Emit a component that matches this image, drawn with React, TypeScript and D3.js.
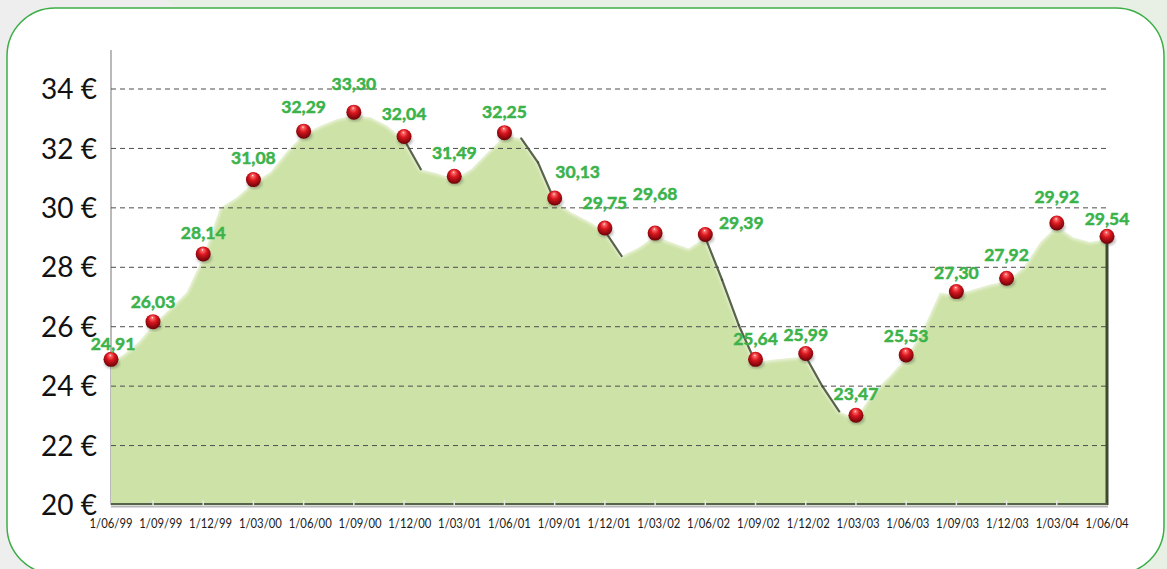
import React, { useEffect, useRef } from 'react'
import * as d3 from 'd3'

// quarterly dates on the x axis
const quarterLabels = [
  '1/06/99', '1/09/99', '1/12/99', '1/03/00', '1/06/00', '1/09/00', '1/12/00',
  '1/03/01', '1/06/01', '1/09/01', '1/12/01', '1/03/02', '1/06/02', '1/09/02',
  '1/12/02', '1/03/03', '1/06/03', '1/09/03', '1/12/03', '1/03/04', '1/06/04',
]

// quoted price at each quarter (green labels)
const quarterValues = [
  24.91, 26.03, 28.14, 31.08, 32.29, 33.3, 32.04, 31.49, 32.25, 30.13, 29.75,
  29.68, 29.39, 25.64, 25.99, 23.47, 25.53, 27.3, 27.92, 29.92, 29.54,
]

// monthly price, drawn as the area
const monthlyValues = [
  24.8, 25.1, 25.5, 26.07, 26.6, 27.15, 28.35, 30.0, 30.35, 30.85,
  31.2, 31.9, 32.48, 32.76, 32.99, 33.12, 33.05, 32.76, 32.3, 31.3,
  31.16, 30.96, 31.3, 31.87, 32.43, 32.34, 31.53, 30.23, 29.84, 29.56,
  29.22, 28.38, 28.66, 29.05, 28.83, 28.63, 29.0, 27.58, 26.05, 24.8,
  24.89, 24.95, 25.0, 23.99, 23.15, 22.92, 23.77, 24.33, 24.95, 25.9,
  27.14, 27.08, 27.25, 27.42, 27.53, 27.99, 28.83, 29.39, 29.0, 28.85,
  28.94,
]

const yTicks = [20, 22, 24, 26, 28, 30, 32, 34]

// label placement relative to each ball [dx, dy]
const labelOffsets = [
  [2, -9], [0, -14], [0, -15], [0, -16], [0, -18], [0, -22], [0, -17],
  [0, -17], [0, -15], [23, -20], [0, -19], [0, -33], [36, -6], [0, -14],
  [0, -12], [0, -15], [0, -13], [0, -13], [0, -17], [0, -20], [0, -11],
]

export default function App() {
  const ref = useRef<SVGSVGElement>(null)

  useEffect(() => {
    const width = 1167
    const height = 569
    const svg = d3.select(ref.current)
    svg.selectAll('*').remove()

    const x = d3.scaleLinear().domain([0, 1, 20]).range([111, 153, 1107])
    const y = d3.scaleLinear().domain([20, 34]).range([505, 89])
    const xLab = d3.scalePoint<string>().domain(quarterLabels).range([111, 1107])
    const fmt = d3.formatLocale({ decimal: ',', thousands: '.', grouping: [3], currency: ['', ' €'] }).format('.2f')

    const defs = svg.append('defs')
    const grad = defs.append('radialGradient')
      .attr('id', 'ball')
      .attr('cx', '50%').attr('cy', '40%').attr('r', '60%')
      .attr('fx', '45%').attr('fy', '22%')
    grad.append('stop').attr('offset', '0%').attr('stop-color', '#ffffff')
    grad.append('stop').attr('offset', '12%').attr('stop-color', '#ff6a6a')
    grad.append('stop').attr('offset', '45%').attr('stop-color', '#d8161f')
    grad.append('stop').attr('offset', '100%').attr('stop-color', '#6a0206')
    defs.append('filter').attr('id', 'blur').append('feGaussianBlur').attr('stdDeviation', 1.4)
    defs.append('filter').attr('id', 'shadow').append('feGaussianBlur').attr('stdDeviation', 1.5)

    // page background and frame
    svg.append('rect').attr('width', width).attr('height', height).attr('fill', '#eeeeee')
    svg.append('polygon')
      .attr('points', '165,0 1167,0 1167,569 980,569')
      .attr('fill', '#e8f0e6')
    svg.append('rect')
      .attr('x', 7).attr('y', 8)
      .attr('width', 1157).attr('height', 566)
      .attr('rx', 48)
      .attr('fill', '#ffffff')
      .attr('stroke', '#3cae45')
      .attr('stroke-width', 1.5)

    // y axis line
    svg.append('line')
      .attr('x1', x(0)).attr('x2', x(0))
      .attr('y1', 50).attr('y2', y(20))
      .attr('stroke', '#8c8c8c').attr('stroke-width', 1.2)

    // area
    const area = d3.area<number>()
      .x((d, i) => x(i / 3))
      .y0(y(20))
      .y1(d => y(d))
    const line = d3.line<number>()
      .x((d, i) => x(i / 3))
      .y(d => y(d))

    svg.append('path')
      .datum(monthlyValues)
      .attr('d', area)
      .attr('fill', '#cde2a6')

    svg.append('path')
      .datum(monthlyValues)
      .attr('d', line)
      .attr('fill', 'none')
      .attr('stroke', '#ffffff')
      .attr('stroke-width', 4)
      .attr('opacity', 0.6)
      .attr('filter', 'url(#blur)')

    // dark edges on steep falls
    const drops = d3.range(monthlyValues.length - 1)
      .filter(i => monthlyValues[i] - monthlyValues[i + 1] > 0.6)
    svg.append('g').selectAll('line')
      .data(drops).enter()
      .append('line')
      .attr('x1', i => x(i / 3)).attr('y1', i => y(monthlyValues[i]))
      .attr('x2', i => x((i + 1) / 3)).attr('y2', i => y(monthlyValues[i + 1]))
      .attr('stroke', '#3e4a30')
      .attr('stroke-width', 2.2)
      .attr('stroke-linecap', 'round')
      .attr('opacity', 0.85)

    // right edge and floor of the area
    const last = monthlyValues.length - 1
    svg.append('line')
      .attr('x1', x(last / 3)).attr('x2', x(last / 3))
      .attr('y1', y(monthlyValues[last])).attr('y2', y(20))
      .attr('stroke', '#3e4a30').attr('stroke-width', 3)
    svg.append('line')
      .attr('x1', x(0)).attr('x2', x(20))
      .attr('y1', y(20) - 1).attr('y2', y(20) - 1)
      .attr('stroke', '#56644a').attr('stroke-width', 2)
    svg.append('line')
      .attr('x1', x(0)).attr('x2', x(20) + 1)
      .attr('y1', y(20) + 1.5).attr('y2', y(20) + 1.5)
      .attr('stroke', '#b8b8b8').attr('stroke-width', 2)

    // x ticks
    svg.append('g').selectAll('line')
      .data(d3.range(1, 20)).enter()
      .append('line')
      .attr('x1', q => x(q)).attr('x2', q => x(q))
      .attr('y1', y(20) - 5).attr('y2', y(20) + 1)
      .attr('stroke', '#e6e6e6').attr('stroke-width', 1.5)

    // dashed grid
    svg.append('g').selectAll('line')
      .data(yTicks.filter(t => t > 20)).enter()
      .append('line')
      .attr('x1', x(0)).attr('x2', x(20))
      .attr('y1', t => y(t)).attr('y2', t => y(t))
      .attr('stroke', '#4d4d4d')
      .attr('stroke-width', 1)
      .attr('stroke-dasharray', '5,4')

    // y labels
    svg.append('g').selectAll('text')
      .data(yTicks).enter()
      .append('text')
      .attr('x', 97)
      .attr('y', t => y(t))
      .attr('dy', '0.36em')
      .attr('text-anchor', 'end')
      .attr('font-family', 'Lato, sans-serif')
      .attr('font-size', 28)
      .attr('fill', '#111111')
      .text(t => `${t} €`)

    // x labels
    svg.append('g').selectAll('text')
      .data(quarterLabels).enter()
      .append('text')
      .attr('x', d => xLab(d) as number)
      .attr('y', 528)
      .attr('text-anchor', 'middle')
      .attr('font-family', 'Lato, sans-serif')
      .attr('font-size', 13.5)
      .attr('textLength', 43)
      .attr('lengthAdjust', 'spacingAndGlyphs')
      .attr('fill', '#1a1a1a')
      .text(d => d)

    // balls
    const balls = quarterValues.map((v, q) => ({
      v,
      cx: x(q),
      cy: y(monthlyValues[q * 3]) - 3,
      off: labelOffsets[q],
    }))
    const g = svg.append('g')
    g.selectAll('ellipse')
      .data(balls).enter()
      .append('ellipse')
      .attr('cx', d => d.cx + 1)
      .attr('cy', d => d.cy + 4)
      .attr('rx', 7.5).attr('ry', 5)
      .attr('fill', '#2a2a2a')
      .attr('opacity', 0.35)
      .attr('filter', 'url(#shadow)')
    g.selectAll('circle')
      .data(balls).enter()
      .append('circle')
      .attr('cx', d => d.cx)
      .attr('cy', d => d.cy)
      .attr('r', 7.5)
      .attr('fill', 'url(#ball)')

    // value labels
    svg.append('g').selectAll('text')
      .data(balls).enter()
      .append('text')
      .attr('x', d => d.cx + d.off[0])
      .attr('y', d => d.cy + d.off[1])
      .attr('text-anchor', 'middle')
      .attr('font-family', 'Lato, sans-serif')
      .attr('font-weight', 'bold')
      .attr('font-size', 17.5)
      .attr('fill', '#3bb34a')
      .attr('stroke', '#3bb34a')
      .attr('stroke-width', 0.5)
      .text(d => fmt(d.v))
  }, [])

  return (
    <svg
      ref={ref}
      width={1167}
      height={569}
      style={{ position: 'absolute', left: 0, top: 0, display: 'block' }}
    />
  )
}
